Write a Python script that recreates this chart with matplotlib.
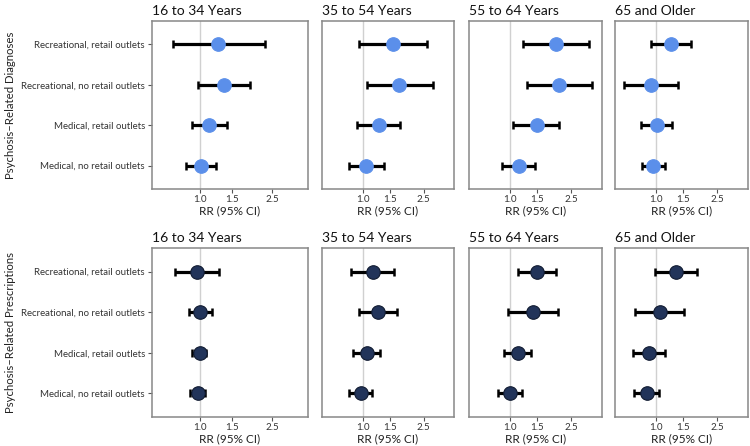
import matplotlib
matplotlib.use("Agg")
import matplotlib.pyplot as plt
import numpy as np

plt.rcParams["font.family"] = ["Lato", "DejaVu Sans"]

# rows, top to bottom in each panel
categories = [
    "Recreational, retail outlets",
    "Recreational, no retail outlets",
    "Medical, retail outlets",
    "Medical, no retail outlets",
]
age_groups = ["16 to 34 Years", "35 to 54 Years", "55 to 64 Years", "65 and Older"]
outcomes = ["Psychosis\u2013Related Diagnoses", "Psychosis\u2013Related Prescriptions"]

# rate ratios (point, lower, upper) per age group, in category order
diag_rr = [[1.26, 1.36, 1.12, 1.01], [1.57, 1.72, 1.27, 1.05],
           [1.99, 2.07, 1.49, 1.14], [1.25, 0.93, 1.01, 0.96]]
diag_lo = [[0.71, 0.975, 0.895, 0.83], [0.94, 1.06, 0.92, 0.81],
           [1.22, 1.29, 1.05, 0.88], [0.93, 0.62, 0.80, 0.81]]
diag_hi = [[2.29, 1.89, 1.40, 1.22], [2.63, 2.86, 1.76, 1.38],
           [3.24, 3.41, 2.09, 1.46], [1.68, 1.39, 1.27, 1.14]]

presc_rr = [[0.96, 1.00, 0.99, 0.97], [1.16, 1.25, 1.06, 0.97],
            [1.49, 1.40, 1.12, 1.00], [1.34, 1.06, 0.90, 0.87]]
presc_lo = [[0.72, 0.87, 0.895, 0.88], [0.84, 0.94, 0.86, 0.81],
            [1.13, 0.97, 0.905, 0.835], [0.98, 0.73, 0.71, 0.72]]
presc_hi = [[1.27, 1.16, 1.08, 1.06], [1.61, 1.67, 1.30, 1.15],
            [1.97, 2.04, 1.36, 1.19], [1.83, 1.52, 1.14, 1.05]]

x_ticks = [1.0, 1.5, 2.5]
point_colors = ["#5b8fea", "#22345a"]
edge_colors = ["#5b8fea", "#101a30"]

W, H = 750, 446
# panel boxes in pixels: (left, right) per column, (top, bottom) per row
cols_px = [(152, 308), (322, 454), (469, 602), (615, 748)]
rows_px = [(21, 189), (248, 417)]


def add_panel(fig, col, row):
    l, r = cols_px[col]
    t, b = rows_px[row]
    return fig.add_axes([l / W, 1 - b / H, (r - l) / W, (b - t) / H])


fig = plt.figure(figsize=(7.5, 4.46), dpi=100)
datasets = [(diag_rr, diag_lo, diag_hi), (presc_rr, presc_lo, presc_hi)]
ypos = np.arange(len(categories))[::-1] + 1

for row, (rr, lo, hi) in enumerate(datasets):
    for col, age in enumerate(age_groups):
        ax = add_panel(fig, col, row)
        est = np.array(rr[col])
        low = np.array(lo[col])
        high = np.array(hi[col])
        ax.axvline(1.0, color="#d0d0d0", lw=1.0, zorder=1)
        ax.errorbar(est, ypos, xerr=[est - low, high - est], fmt="none",
                    ecolor="black", elinewidth=2.3, capsize=3.2, capthick=1.8, zorder=2)
        ax.scatter(est, ypos, s=95, color=point_colors[row],
                   edgecolor=edge_colors[row], linewidth=0.8, zorder=3)
        ax.set_xscale("log")
        ax.set_xlim(0.54, 3.95)
        ax.set_ylim(0.42, 4.58)
        ax.set_xticks(x_ticks)
        ax.set_xticklabels([f"{v:.1f}" for v in x_ticks])
        ax.minorticks_off()
        ax.tick_params(axis="x", labelsize=7, colors="#555555", length=3, width=0.8,
                       labelcolor="#333333", pad=1.5)
        ax.set_xlabel("RR (95% CI)", fontsize=8.5, color="#222222", labelpad=0.5)
        for s in ax.spines.values():
            s.set_color("#888888")
            s.set_linewidth(1.1)
        ax.set_title(age, loc="left", fontsize=10, color="#111111", pad=4)
        if col == 0:
            ax.set_yticks(ypos)
            ax.set_yticklabels(categories)
            ax.tick_params(axis="y", labelsize=6.9, colors="#555555", length=3, width=0.8,
                           labelcolor="#333333", pad=2)
            ax.set_ylabel(outcomes[row], fontsize=8.2, color="#222222")
            ax.yaxis.set_label_coords(-0.87, 0.5)
        else:
            ax.set_yticks([])

fig.savefig("out.png", dpi=100)
